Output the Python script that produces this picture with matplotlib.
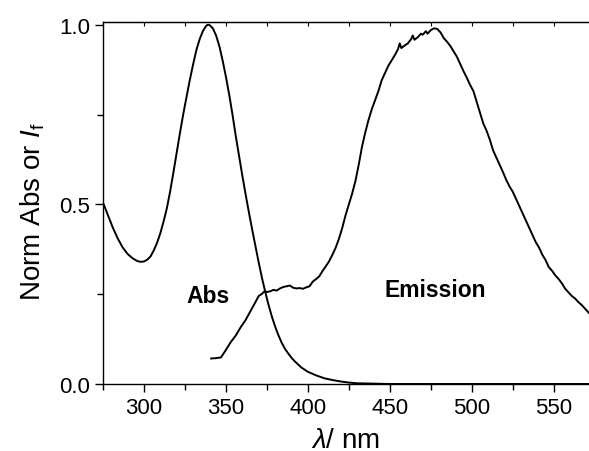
import numpy as np
import matplotlib.pyplot as plt
from matplotlib.ticker import MultipleLocator

plt.rcParams['font.family'] = ['Liberation Sans', 'DejaVu Sans']
plt.rcParams['mathtext.fontset'] = 'custom'
plt.rcParams['mathtext.rm'] = 'Liberation Sans'
plt.rcParams['mathtext.it'] = 'Liberation Sans:italic'

# absorbance spectrum (normalised)
abs_nm = [275, 278, 281, 284, 287, 290, 293, 296, 298, 300, 302, 304, 306, 308,
          310, 312, 314, 316, 318, 320, 322, 324, 326, 328, 330, 332, 334, 336,
          338, 339, 340, 342, 344, 346, 348, 350, 352, 354, 356, 358, 360, 362,
          364, 366, 368, 370, 372, 374, 376, 378, 380, 382, 384, 386, 388, 390,
          392, 396, 400, 405, 410, 415, 420, 425, 430, 440, 450, 475, 500, 525,
          550, 572]
abs_val = [0.505, 0.47, 0.435, 0.405, 0.38, 0.362, 0.35, 0.342, 0.340, 0.341,
           0.346, 0.355, 0.372, 0.393, 0.42, 0.453, 0.49, 0.537, 0.59, 0.645,
           0.70, 0.752, 0.80, 0.847, 0.89, 0.93, 0.96, 0.983, 0.997, 1.0, 0.999,
           0.99, 0.97, 0.94, 0.90, 0.855, 0.805, 0.75, 0.69, 0.635, 0.58,
           0.528, 0.478, 0.43, 0.384, 0.338, 0.295, 0.256, 0.22, 0.188, 0.16,
           0.136, 0.115, 0.098, 0.085, 0.073, 0.063, 0.046, 0.034, 0.024, 0.016,
           0.011, 0.007, 0.004, 0.002, 0.001, 0.0, 0.0, 0.0, 0.0, 0.0, 0.0]

# emission spectrum (normalised)
em_nm = [341, 344, 347, 350, 353, 356, 359, 362, 365, 368, 370, 372, 373.5, 375,
         377, 379, 381, 383, 385, 387, 389, 391, 393, 395, 397, 399, 401, 403,
         405, 407, 409, 411, 413, 415, 417, 419, 421, 423, 425, 427, 429, 431,
         433, 435, 437, 439, 441, 443, 445, 447, 449, 451, 453, 455, 456, 457,
         459, 461, 463, 464, 465, 467, 469, 470, 472, 473, 475, 477, 479, 481,
         483, 485, 487, 489, 491, 493, 495, 497, 499, 501, 503, 505, 507, 509,
         511, 513, 515, 517, 519, 521, 523, 525, 527, 529, 531, 533, 535, 537,
         539, 541, 543, 545, 547, 549, 551, 553, 555, 557, 559, 561, 563, 565,
         567, 569, 571, 572]
em_val = [0.071, 0.072, 0.074, 0.095, 0.117, 0.135, 0.158, 0.178, 0.203, 0.228,
          0.245, 0.251, 0.258, 0.256, 0.258, 0.262, 0.260, 0.266, 0.270, 0.272,
          0.274, 0.268, 0.266, 0.267, 0.265, 0.269, 0.272, 0.285, 0.292, 0.300,
          0.315, 0.328, 0.342, 0.36, 0.38, 0.405, 0.435, 0.47, 0.50, 0.53,
          0.565, 0.61, 0.66, 0.70, 0.735, 0.765, 0.79, 0.815, 0.845, 0.865,
          0.885, 0.90, 0.915, 0.932, 0.948, 0.935, 0.942, 0.948, 0.96, 0.97,
          0.958, 0.965, 0.975, 0.972, 0.982, 0.975, 0.985, 0.99, 0.988, 0.978,
          0.962, 0.952, 0.94, 0.925, 0.91, 0.89, 0.87, 0.852, 0.832, 0.815,
          0.785, 0.755, 0.725, 0.705, 0.68, 0.65, 0.63, 0.61, 0.59, 0.568,
          0.55, 0.535, 0.515, 0.495, 0.475, 0.455, 0.435, 0.415, 0.395, 0.38,
          0.36, 0.345, 0.325, 0.315, 0.302, 0.292, 0.28, 0.265, 0.255, 0.245,
          0.238, 0.228, 0.22, 0.21, 0.2, 0.195]

fig = plt.figure(figsize=(5.89, 4.52), dpi=100)
ax = fig.add_axes([103/589, 67/452, 486/589, 362/452])

ax.plot(abs_nm, abs_val, color='black', lw=1.4)
ax.plot(em_nm, em_val, color='black', lw=1.4)

ax.text(339, 0.247, 'Abs', fontsize=16.5, fontweight='bold',
        ha='center', va='center')
ax.text(478, 0.264, 'Emission', fontsize=16.5, fontweight='bold',
        ha='center', va='center')

ax.set_xlim(275, 571.5)
ax.set_ylim(0, 1.0075)
ax.xaxis.set_major_locator(MultipleLocator(50))
ax.xaxis.set_minor_locator(MultipleLocator(25))
ax.yaxis.set_major_locator(MultipleLocator(0.5))
ax.yaxis.set_minor_locator(MultipleLocator(0.25))
ax.yaxis.set_major_formatter(plt.FormatStrFormatter('%.1f'))

ax.spines['right'].set_visible(False)
for s in ax.spines.values():
    s.set_linewidth(1.0)
ax.tick_params(which='major', direction='out', length=6, width=1.0, labelsize=16)
ax.tick_params(which='minor', direction='out', length=4, width=1.0)

# small inward ticks along the top spine
top = ax.secondary_xaxis('top')
top.xaxis.set_major_locator(MultipleLocator(25))
top.tick_params(direction='in', length=3, width=0.8, labeltop=False)

ax.set_xlabel(r'$\mathit{λ}$/ nm', fontsize=20, labelpad=6)
ax.set_ylabel(r'Norm Abs or $\mathit{I}_\mathrm{f}$', fontsize=20)
ax.yaxis.set_label_coords(-0.115, 0.478)

fig.savefig('out.png', dpi=100)
